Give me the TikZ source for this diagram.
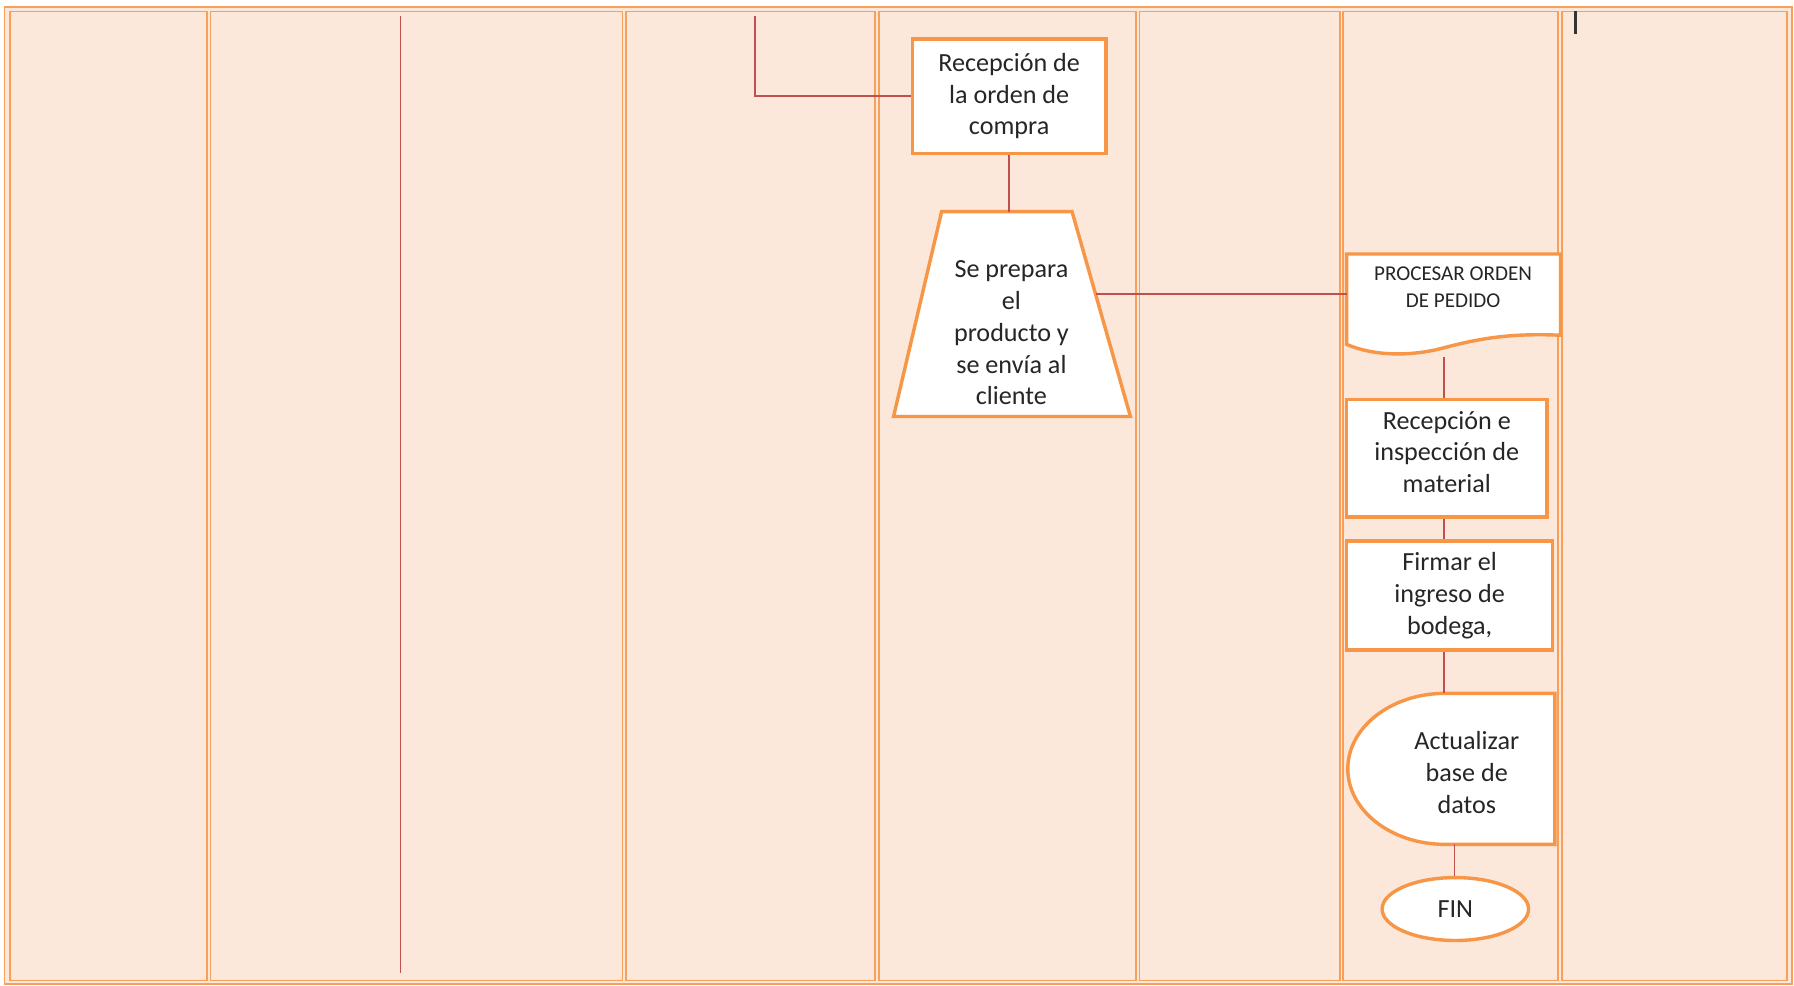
\documentclass[tikz,border=0pt]{standalone}
\usepackage{fontspec}
\setmainfont{Carlito}
\usepackage{tikz}
\usetikzlibrary{shapes,positioning}
\usetikzlibrary{calc}
\definecolor{lane}{HTML}{FCE8DA}
\definecolor{naranja}{HTML}{F79646}
\definecolor{rojo}{HTML}{C0504D}
\tikzset{
	caja/.style={draw=naranja,line width=1.7pt,fill=white,align=center,inner sep=2pt,text=black!85,font=\fontsize{13}{15.8}\selectfont},
	forma/.style={draw=naranja,line width=1.7pt,fill=white},
	texto/.style={align=center,inner sep=1pt,text=black!85,font=\fontsize{13}{15.8}\selectfont},
	linea/.style={draw=rojo,line width=0.7pt},
	carril/.style={draw=naranja!90,line width=0.9pt,fill=lane}
}

\begin{document}
\begin{tikzpicture}[x=0.2mm,y=-0.2mm]
	\useasboundingbox (0,0) rectangle (1568,861);
	
	%Carriles
	\draw[carril] (4,6) rectangle (1566,860);
	\foreach \xa/\xb in {9/181,184/544,547/765,768/993,996/1171,1174/1362,1365/1562}
		\draw[carril] (\xa,10) rectangle (\xb,857);
	
	%Puntos libres
	\coordinate (a1) at (350,14);
	\coordinate (a2) at (350,850);
	\coordinate (b1) at (660,14);
	\coordinate (prepT) at (882,185);
	\coordinate (prepR) at (958,257);
	\coordinate (procL) at (1177,251);
	\coordinate (procB) at (1262,312);
	\coordinate (updT) at (1262,606);
	\coordinate (updB) at (1271,738);
	\coordinate (cur1) at (1377,10);
	\coordinate (cur2) at (1377,30);
	
	%Formas dibujadas
	\filldraw[forma] (823,185) -- (937,185) -- (988,364) -- (781,364) -- cycle;
	\filldraw[forma] (1177,222) -- (1364,222) -- (1364,293)
		.. controls (1320,291) and (1292,296) .. (1262,304)
		.. controls (1232,312) and (1200,311) .. (1177,301) -- cycle;
	\filldraw[forma] (1359,606) -- (1263,606)
		arc[start angle=90,end angle=270,x radius=17mm,y radius=13.2mm] -- (1359,738) -- cycle;
	
	%Nodos
	\node[caja,minimum width=33.8mm,minimum height=20mm] (ord) at (882,84) {Recepción de\\la orden de\\compra};
	\node[texto] (prep) at (884,291) {Se prepara\\el\\producto y\\se envía al\\cliente};
	\node[texto,font=\fontsize{10.5}{13}\selectfont] (proc) at (1270,251) {PROCESAR ORDEN\\DE PEDIDO};
	\node[caja,minimum width=35mm,minimum height=20.6mm] (recep) at (1264.5,400.5) {Recepción e\\inspección de\\material\\[-9.5pt]};
	\node[caja,minimum width=36mm,minimum height=19mm] (firma) at (1267,520.5) {Firmar el\\ingreso de\\bodega,};
	\node[texto] (upd) at (1282,675) {Actualizar\\base de\\datos};
	\node[caja,ellipse,minimum width=25.6mm,minimum height=11mm] (fin) at (1272,794.5) {FIN};
	
	%Conectores
	\draw[linea] (a1) -- (a2);
	\draw[linea] (b1) |- (ord.west);
	\draw[linea] (ord.south) -- (prepT);
	\draw[linea] (prepR) -- (prepR -| procL);
	\draw[linea] (procB) -- (procB |- recep.north);
	\draw[linea] (recep.south -| procB) -- (procB |- firma.north);
	\draw[linea] (firma.south -| procB) -- (updT);
	\draw[linea] (updB) -- (updB |- fin.north);
	
	%Cursor
	\draw[line width=1.2pt,black!80] (cur1) -- (cur2);
\end{tikzpicture}
\end{document}
